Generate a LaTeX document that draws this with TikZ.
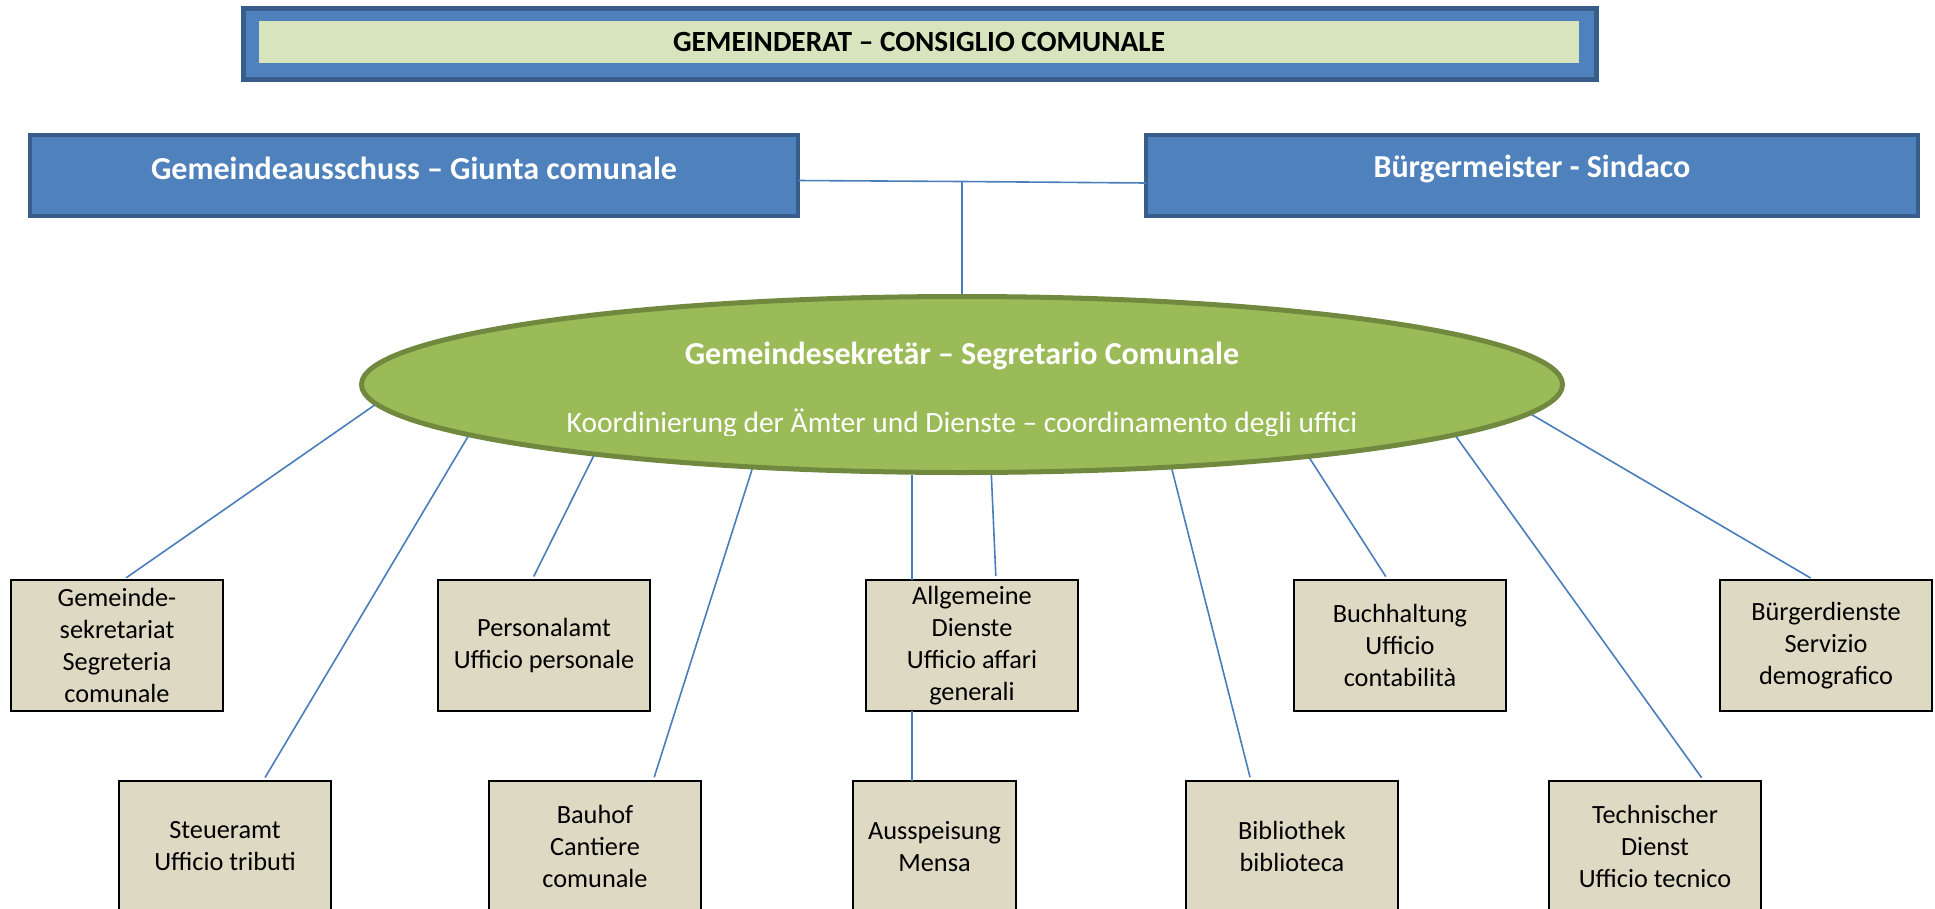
\documentclass[tikz,border=0pt]{standalone}
\usepackage{fontspec}
\setmainfont{Carlito}
\usetikzlibrary{shapes.geometric,calc}
\definecolor{bfill}{HTML}{4F81BD}
\definecolor{bdark}{HTML}{385D8A}
\definecolor{lgreen}{HTML}{D7E4BD}
\definecolor{gfill}{HTML}{9BBB59}
\definecolor{gdark}{HTML}{71893F}
\definecolor{tanbox}{HTML}{DDD9C3}
\definecolor{conn}{HTML}{4A7EBB}
\begin{document}
\begin{tikzpicture}[x=1pt,y=-1pt,
  headbox/.style={draw=bdark,line width=4pt,fill=bfill,inner sep=0pt,outer sep=0pt},
  headtxt/.style={text=white,font=\fontsize{32}{38}\selectfont\bfseries,inner sep=0pt},
  unitbox/.style={draw=black,line width=2.5pt,fill=tanbox,inner sep=0pt,outer sep=0pt,
    minimum width=212pt,minimum height=131pt,align=center,font=\fontsize{26.3}{32}\selectfont},
  link/.style={draw=conn,line width=1.6pt},
  gaplink/.style={link,shorten >=4pt}]
\useasboundingbox (0,0) rectangle (1935,908);

% Gemeinderat
\node[headbox,line width=5pt,minimum width=1353pt,minimum height=71pt] (gr) at (920,44) {};
\node[fill=lgreen,inner sep=0pt,minimum width=1320pt,minimum height=42pt] (grin) at (919,42) {};
\node[font=\fontsize{29.3}{35}\selectfont\bfseries,inner sep=0pt] (grt) at (grin.center) {GEMEINDERAT – CONSIGLIO COMUNALE};

% Giunta & Sindaco
\node[headbox,minimum width=768pt,minimum height=81pt] (ga) at (414,175.5) {};
\node[headtxt] (gat) at ([yshift=7pt]ga.center) {Gemeindeausschuss – Giunta comunale};
\node[headbox,minimum width=772pt,minimum height=81pt] (bm) at (1532,175.5) {};
\node[headtxt] (bmt) at ([yshift=7pt]bm.center) {Bürgermeister - Sindaco};

% Segretario
\node[ellipse,draw=gdark,line width=5pt,fill=gfill,inner sep=0pt,
  minimum width=1201pt,minimum height=176pt] (sec) at (962,384.5) {};
\node[text=white,font=\fontsize{32}{38}\selectfont\bfseries,anchor=base,inner sep=0pt] (sect) at (962,364) {Gemeindesekretär – Segretario Comunale};
\begin{scope}
  \clip (0,0) rectangle (1935,435);
  \node[text=white,font=\fontsize{29.5}{35}\selectfont,anchor=base,inner sep=0pt] (secs) at (962,432) {Koordinierung der Ämter und Dienste – coordinamento degli uffici};
\end{scope}

% connector top
\coordinate (j) at (962,181.5);
\draw[link] ([yshift=-5pt]ga.east) -- (j) -- ([yshift=-7.5pt]bm.west);
\draw[link] (j) -- (sec.north);

% units row 1
\node[unitbox] (gem) at (117,645.5) {Gemeinde-\\sekretariat\\Segreteria\\comunale};
\node[unitbox] (pers) at (544,645.5) {Personalamt\\Ufficio personale};
\node[unitbox] (allg) at (972,645.5) {Allgemeine\\Dienste\\Ufficio affari\\generali};
\node[unitbox] (buch) at (1400,645.5) {Buchhaltung\\Ufficio\\contabilità};
\node[unitbox] (burg) at (1826,645.5) {Bürgerdienste\\Servizio\\demografico};
% units row 2
\node[unitbox] (steu) at (225,846.5) {Steueramt\\Ufficio tributi};
\node[unitbox] (bau) at (595,846.5) {Bauhof\\Cantiere\\comunale};
\node[unitbox,minimum width=163pt] (aus) at (934.5,846.5) {Ausspeisung\\Mensa};
\node[unitbox] (bib) at (1292,846.5) {Bibliothek\\biblioteca};
\node[unitbox] (tech) at (1655,846.5) {Technischer\\Dienst\\Ufficio tecnico};

% connectors
\draw[gaplink] (sec.182.3) -- ([xshift=6pt]gem.north);
\draw[gaplink] (sec.186.2) -- ([xshift=38pt]steu.north);
\draw[gaplink] (sec.191.2) -- ([xshift=-12pt]pers.north);
\draw[gaplink] (sec.202.3) -- ([xshift=58pt]bau.north);
\draw[link] (sec.241) -- (sec.241 |- allg.north);
\draw[gaplink] (sec.288.3) -- ([xshift=24pt]allg.north);
\draw[link] (sec.241 |- allg.south) -- (sec.241 |- aus.north);
\draw[gaplink] (sec.338.5) -- ([xshift=-41pt]bib.north);
\draw[gaplink] (sec.348.2) -- ([xshift=-12pt]buch.north);
\draw[gaplink] (sec.354.2) -- ([xshift=49pt]tech.north);
\draw[gaplink] (sec.357.6) -- ([xshift=-12pt]burg.north);
\end{tikzpicture}
\end{document}
